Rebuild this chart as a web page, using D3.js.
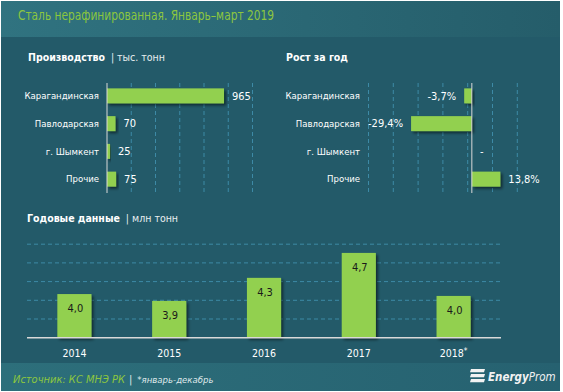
<!DOCTYPE html>
<html><head><meta charset="utf-8">
<script src="https://cdn.jsdelivr.net/npm/d3@7"></script>
<style>
html,body{margin:0;padding:0;background:#fff;}
svg{display:block;}
text{font-family:"DejaVu Sans Condensed","DejaVu Sans",sans-serif;}
</style></head>
<body><svg id="c" width="563" height="392"></svg>
<script>
// ---- data ----
const regions = ["Карагандинская","Павлодарская","г. Шымкент","Прочие"];
const production = [965, 70, 25, 75];          // тыс. тонн
const growth = [-3.7, -29.4, null, 13.8];      // %
const years = ["2014","2015","2016","2017","2018"];
const yearMarks = ["","","","","*"];
const annual = [4.0, 3.89, 4.26, 4.66, 3.97];  // млн тонн
const prodTicks = [200,400,600,800,1000,1200];
const growthTicks = [-50,-38,-26,-14,-2,10,22];
const annualTicks = [3.6,3.9,4.2,4.5,4.8];

const svg = d3.select("#c");
const defs = svg.append("defs");
const hg = defs.append("linearGradient").attr("id","hg");
hg.append("stop").attr("offset","0%").attr("stop-color","#307380");
hg.append("stop").attr("offset","100%").attr("stop-color","#255d6a");
const fg = defs.append("linearGradient").attr("id","fg");
fg.append("stop").attr("offset","0%").attr("stop-color","#2d6f7b");
fg.append("stop").attr("offset","100%").attr("stop-color","#266170");
const sh = defs.append("filter").attr("id","sh").attr("x","-20%").attr("y","-20%").attr("width","150%").attr("height","160%");
sh.append("feDropShadow").attr("dx",2).attr("dy",2).attr("stdDeviation",1.5).attr("flood-color","#000").attr("flood-opacity",0.55);

svg.append("rect").attr("x",1).attr("y",1).attr("width",559).attr("height",390).attr("fill","#235a69");
svg.append("rect").attr("x",1).attr("y",1).attr("width",559).attr("height",36).attr("fill","url(#hg)");
svg.append("rect").attr("x",1).attr("y",363).attr("width",559).attr("height",28).attr("fill","url(#fg)");

const GREEN="#92d050", GRID="#3d8aa6", AX="#d9d9d9", TXT="#ffffff";

svg.append("text").attr("x",18).attr("y",20).attr("fill","#8cc63f").attr("font-size",14)
  .attr("textLength",256).attr("lengthAdjust","spacingAndGlyphs")
  .text("Сталь нерафинированная. Январь–март 2019");

function heading(x,y,bold,rest){
  const t = svg.append("text").attr("x",x).attr("y",y).attr("fill",TXT).attr("font-size",10.5);
  t.append("tspan").attr("font-weight","bold").text(bold);
  if(rest){ t.append("tspan").attr("dx",6).attr("fill","#e8eef0").attr("font-size",10.5).text(rest); }
}
heading(28,61,"Производство","| тыс. тонн");
heading(286,61,"Рост за год",null);
heading(27,222,"Годовые данные","| млн тонн");

const lblSize = 9.5;
// ---- production ----
const y1 = d3.scaleBand().domain(regions).range([82,193]).paddingInner(0.46).paddingOuter(0.23);
const x1 = d3.scaleLinear().domain([0,1200]).range([107,252.5]);
const g1 = svg.append("g");
g1.selectAll("line.g").data(prodTicks).join("line")
  .attr("x1",d=>x1(d)).attr("x2",d=>x1(d)).attr("y1",83).attr("y2",193)
  .attr("stroke",GRID).attr("stroke-dasharray","4,3");
g1.selectAll("rect").data(production).join("rect")
  .attr("x",x1(0)).attr("y",(d,i)=>y1(regions[i])).attr("height",y1.bandwidth())
  .attr("width",d=>x1(d)-x1(0)).attr("fill",GREEN).attr("filter","url(#sh)");
g1.append("line").attr("x1",x1(0)).attr("x2",x1(0)).attr("y1",83).attr("y2",193).attr("stroke",AX);
g1.selectAll("text.c").data(regions).join("text")
  .attr("x",99).attr("y",d=>y1(d)+y1.bandwidth()/2).attr("dy","0.35em")
  .attr("text-anchor","end").attr("fill",TXT).attr("font-size",lblSize).text(d=>d);
g1.selectAll("text.v").data(production).join("text")
  .attr("x",d=>x1(d)+8).attr("y",(d,i)=>y1(regions[i])+y1.bandwidth()/2).attr("dy","0.35em")
  .attr("fill",TXT).attr("font-size",11).text(d=>d);

// ---- growth ----
const x2 = d3.scaleLinear().domain([-50,22]).range([368.5,517.3]);
const g2 = svg.append("g");
g2.selectAll("line.g").data(growthTicks).join("line")
  .attr("x1",d=>x2(d)).attr("x2",d=>x2(d)).attr("y1",83).attr("y2",193)
  .attr("stroke",GRID).attr("stroke-dasharray","4,3");
g2.selectAll("rect").data(growth).join("rect")
  .attr("x",d=>d==null?x2(0):x2(Math.min(0,d))).attr("y",(d,i)=>y1(regions[i])).attr("height",y1.bandwidth())
  .attr("width",d=>d==null?0:Math.abs(x2(d)-x2(0))).attr("fill",GREEN).attr("filter","url(#sh)");
g2.append("line").attr("x1",x2(0)).attr("x2",x2(0)).attr("y1",83).attr("y2",193).attr("stroke",AX);
g2.selectAll("text.c").data(regions).join("text")
  .attr("x",360).attr("y",d=>y1(d)+y1.bandwidth()/2).attr("dy","0.35em")
  .attr("text-anchor","end").attr("fill",TXT).attr("font-size",lblSize).text(d=>d);
const fmtP = d=> d3.format(".1f")(d).replace("−","-").replace(".",",")+"%";
g2.selectAll("text.v").data(growth).join("text")
  .attr("x",d=>d==null?x2(0)+10:(d<0?x2(d)-8:x2(d)+8))
  .attr("y",(d,i)=>y1(regions[i])+y1.bandwidth()/2).attr("dy","0.35em")
  .attr("text-anchor",d=>d==null?"middle":(d<0?"end":"start"))
  .attr("fill",TXT).attr("font-size",11).text(d=>d==null?"-":fmtP(d));

// ---- annual ----
const x3 = d3.scaleBand().domain(years).range([27,501]).paddingInner(0.64).paddingOuter(0.32);
const y3 = d3.scaleLinear().domain([3.3,4.8]).range([337.7,244.2]);
const g3 = svg.append("g");
g3.selectAll("line.g").data(annualTicks).join("line")
  .attr("x1",27).attr("x2",501).attr("y1",d=>y3(d)).attr("y2",d=>y3(d))
  .attr("stroke",GRID).attr("stroke-dasharray","4,3");
g3.selectAll("rect").data(annual).join("rect")
  .attr("x",(d,i)=>x3(years[i])).attr("width",x3.bandwidth())
  .attr("y",d=>y3(d)).attr("height",d=>y3(3.3)-y3(d)).attr("fill",GREEN).attr("filter","url(#sh)");
g3.append("line").attr("x1",27).attr("x2",501).attr("y1",y3(3.3)).attr("y2",y3(3.3)).attr("stroke",AX).attr("stroke-width",1.5);
g3.selectAll("text.v").data(annual).join("text")
  .attr("x",(d,i)=>x3(years[i])+x3.bandwidth()/2+1).attr("y",d=>y3(d)+14).attr("dy","0.35em")
  .attr("text-anchor","middle").attr("fill","#1a1a1a").attr("font-size",11)
  .text(d=>d3.format(".1f")(d).replace(".",","));
const yl = g3.selectAll("text.c").data(years).join("text")
  .attr("x",d=>x3(d)+x3.bandwidth()/2).attr("y",353).attr("dy","0.35em")
  .attr("text-anchor","middle").attr("fill",TXT).attr("font-size",10.5);
yl.append("tspan").text(d=>d);
yl.append("tspan").attr("dy","-0.35em").attr("font-size",8).text((d,i)=>yearMarks[i]);

// ---- footer ----
const ft = svg.append("text").attr("x",13).attr("y",383).attr("font-size",11).attr("font-style","italic");
ft.append("tspan").attr("fill","#8cc63f").text("Источник: КС МНЭ РК");
ft.append("tspan").attr("fill","#dfe8ea").attr("font-style","normal").attr("dx",4).text("|");
ft.append("tspan").attr("fill","#dfe8ea").attr("dx",5).attr("font-size",9.5).text("*январь-декабрь");
// logo
const lg = svg.append("g").attr("transform","translate(469,369)");
[0,5,10].forEach(o=>{
  lg.append("path").attr("d",`M2,${o} L16,${o} L15,${o+3.2} L1,${o+3.2} Z`).attr("fill","#f2f2f2");
});
const lt = svg.append("text").attr("x",488).attr("y",381).attr("font-size",11.5).attr("font-style","italic").attr("fill","#f2f2f2");
lt.append("tspan").attr("font-weight","bold").text("Energy");
lt.append("tspan").text("Prom");
</script></body></html>
